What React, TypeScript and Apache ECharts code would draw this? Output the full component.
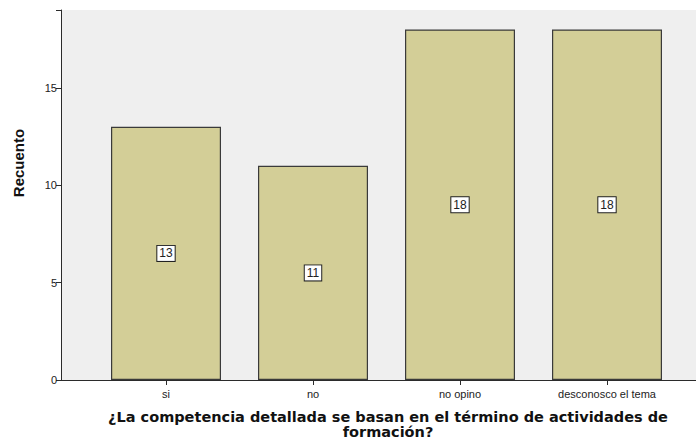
import React, { useEffect, useRef } from "react";
import * as echarts from "echarts";

const categories = ["si", "no", "no opino", "desconosco el tema"];
const counts = [13, 11, 18, 18];
const yTicks = [0, 5, 10, 15];
const yTitle = "Recuento";
const xTitleLines = ["¿La competencia detallada se basan en el término de actividades de", "formación?"];

export default function App() {
  const ref = useRef<HTMLDivElement>(null);
  useEffect(() => {
    const chart = echarts.init(ref.current!, null, { renderer: "svg" });
    const top = 10;
    const bottom = 61;
    chart.setOption({
      animation: false,
      backgroundColor: "#ffffff",
      grid: [
        { left: 61, right: 0, top, bottom, show: true, backgroundColor: "#efefef", borderWidth: 0 },
        { left: 92.5, right: 15.5, top, bottom },
      ],
      xAxis: [
        {
          gridIndex: 0, type: "value", min: 0, max: 1,
          axisLine: { show: true, lineStyle: { color: "#2b2b2b", width: 1 } },
          axisTick: { show: false }, axisLabel: { show: false }, splitLine: { show: false },
        },
        {
          gridIndex: 1, type: "category", data: categories,
          axisLine: { show: false },
          axisTick: { show: true, alignWithLabel: true, length: 5, lineStyle: { color: "#2b2b2b" } },
          axisLabel: { color: "#222", fontSize: 11, fontFamily: "Liberation Sans, Arial, sans-serif", margin: 8 },
        },
      ],
      yAxis: [
        {
          gridIndex: 0, type: "value", min: 0, max: 19, interval: 5,
          axisLine: { show: true, lineStyle: { color: "#2b2b2b", width: 1 } },
          axisTick: { show: true, length: 5, lineStyle: { color: "#2b2b2b" } },
          axisLabel: {
            color: "#222", fontSize: 11, fontFamily: "Liberation Sans, Arial, sans-serif", margin: 4,
            formatter: (v: number) => (yTicks.includes(v) ? String(v) : ""),
          },
          splitLine: { show: false },
        },
        { gridIndex: 1, type: "value", min: 0, max: 19, show: false },
      ],
      series: [
        {
          type: "bar",
          xAxisIndex: 1,
          yAxisIndex: 1,
          data: counts,
          barWidth: 110,
          itemStyle: { color: "#d3ce97", borderColor: "#3a3a3a", borderWidth: 1.2 },
          label: {
            show: true,
            position: "inside",
            color: "#222",
            fontSize: 12,
            fontFamily: "Liberation Sans, Arial, sans-serif",
            backgroundColor: "#ffffff",
            borderColor: "#222",
            borderWidth: 1,
            padding: [2, 2, 1, 2],
          },
        },
      ],
      graphic: [
        {
          type: "text",
          x: 18,
          y: 163,
          rotation: Math.PI / 2,
          style: {
            text: yTitle,
            fill: "#111",
            font: "bold 15px 'Liberation Sans', Arial, sans-serif",
            align: "center",
            verticalAlign: "middle",
          },
        },
        {
          type: "text",
          x: 388,
          y: 416.5,
          style: {
            text: xTitleLines[0],
            fill: "#111",
            font: "bold 14.5px 'DejaVu Sans', Verdana, sans-serif",
            align: "center",
            verticalAlign: "middle",
          },
        },
        {
          type: "text",
          x: 388,
          y: 432,
          style: {
            text: xTitleLines[1],
            fill: "#111",
            font: "bold 14.5px 'DejaVu Sans', Verdana, sans-serif",
            align: "center",
            verticalAlign: "middle",
          },
        },
      ],
    });
    return () => chart.dispose();
  }, []);
  return <div ref={ref} style={{ width: 696, height: 441, position: "fixed", left: 0, top: 0 }} />;
}
